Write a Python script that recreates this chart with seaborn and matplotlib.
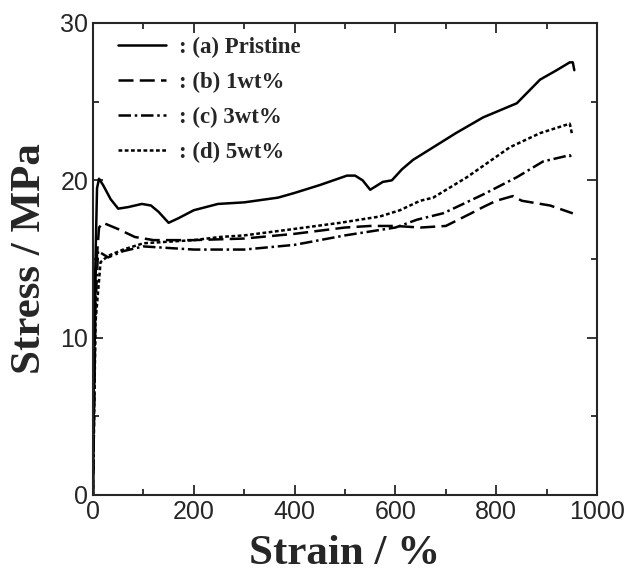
import numpy as np
import pandas as pd
import matplotlib
matplotlib.use("Agg")
import matplotlib.pyplot as plt
from matplotlib.ticker import MultipleLocator
import seaborn as sns

# --- data (strain %, stress MPa) ---
pristine_strain = [0, 3, 8, 12, 20, 35, 50, 70, 97, 115, 130, 150, 170, 200, 248, 300,
                   367, 400, 450, 504, 520, 535, 550, 575, 593, 613, 635, 675, 720,
                   774, 841, 887, 920, 946, 952, 955]
pristine_stress = [0, 12, 19.5, 20.1, 19.7, 18.8, 18.2, 18.3, 18.5, 18.4, 18.0, 17.3, 17.6,
                   18.1, 18.5, 18.6, 18.9, 19.2, 19.7, 20.3, 20.3, 20.0, 19.4, 19.9, 20.0,
                   20.7, 21.3, 22.1, 23.0, 24.0, 24.9, 26.4, 27.0, 27.5, 27.5, 27.0]

wt1_strain = [0, 5, 12, 20, 50, 83, 120, 200, 300, 400, 450, 500, 550, 600, 650, 700,
              750, 774, 800, 833, 851, 907, 952]
wt1_stress = [0, 14, 17.0, 17.3, 16.9, 16.4, 16.2, 16.2, 16.3, 16.6, 16.8, 17.0, 17.1,
              17.1, 17.0, 17.1, 17.9, 18.3, 18.7, 19.0, 18.7, 18.4, 17.9]

wt3_strain = [0, 5, 10, 30, 60, 100, 150, 200, 300, 400, 500, 600, 643, 694, 708, 774,
              841, 893, 946, 950]
wt3_stress = [0, 12, 15.5, 15.1, 15.5, 15.8, 15.7, 15.6, 15.6, 15.9, 16.5, 17.0, 17.5,
              17.9, 18.1, 19.1, 20.2, 21.2, 21.6, 21.4]

wt5_strain = [0, 5, 15, 30, 60, 100, 150, 200, 252, 300, 385, 490, 569, 609, 649, 675,
              742, 827, 887, 946, 950]
wt5_stress = [0, 11, 14.8, 15.2, 15.6, 16.0, 16.1, 16.2, 16.4, 16.5, 16.85, 17.3, 17.7,
              18.1, 18.7, 18.9, 20.2, 22.1, 23.0, 23.6, 23.0]

labels = [": (a) Pristine", ": (b) 1wt%", ": (c) 3wt%", ": (d) 5wt%"]
styles = ["-", (0, (6, 2.5)), (0, (5, 1.5, 1, 1.5)), (0, (1.5, 1.0))]

series = [
    (pristine_strain, pristine_stress),
    (wt1_strain, wt1_stress),
    (wt3_strain, wt3_stress),
    (wt5_strain, wt5_stress),
]

sns.set_style("ticks")
plt.rcParams["font.family"] = ["Liberation Sans", "DejaVu Sans"]

fig = plt.figure(figsize=(6.28, 5.75), dpi=100)
ax = fig.add_axes([93 / 628, 80 / 575, 504 / 628, 472 / 575])

for (xs, ys), lab, ls in zip(series, labels, styles):
    df = pd.DataFrame({"strain": xs, "stress": ys})
    sns.lineplot(data=df, x="strain", y="stress", ax=ax, color="black",
                 linestyle=ls, linewidth=1.8, label=lab, sort=False, estimator=None)

ax.set_xlim(0, 1000)
ax.set_ylim(0, 30)
ax.xaxis.set_major_locator(MultipleLocator(200))
ax.xaxis.set_minor_locator(MultipleLocator(100))
ax.yaxis.set_major_locator(MultipleLocator(10))
ax.yaxis.set_minor_locator(MultipleLocator(5))
ax.tick_params(which="both", direction="in", top=True, right=True, width=1.3)
ax.tick_params(which="major", length=7, labelsize=18)
ax.tick_params(which="minor", length=4)
for sp in ax.spines.values():
    sp.set_linewidth(1.5)

serif = {"family": "Liberation Serif", "weight": "bold", "size": 31}
ax.set_xlabel("Strain / %", fontdict=serif, labelpad=8)
ax.set_ylabel("Stress / MPa", fontdict=serif, labelpad=8)

ax.legend(loc="upper left", bbox_to_anchor=(0.018, 1.005), frameon=False,
          handlelength=2.1, handletextpad=0.55, labelspacing=0.6, borderaxespad=0.3,
          prop={"family": "Liberation Serif", "weight": "bold", "size": 16.5})

fig.savefig("out.png", dpi=100)
